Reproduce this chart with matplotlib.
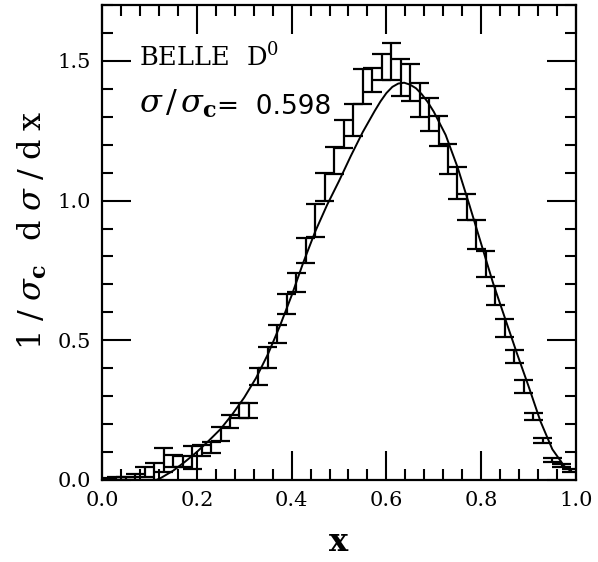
import matplotlib
matplotlib.use("Agg")
import matplotlib.pyplot as plt
from matplotlib.ticker import MultipleLocator, FormatStrFormatter

plt.rcParams['mathtext.fontset'] = 'dejavuserif'
plt.rcParams['font.family'] = 'DejaVu Serif'

# bin centres and error bar ranges (low, high)
bin_x = [0.01, 0.03, 0.05, 0.07, 0.09, 0.11, 0.13, 0.15, 0.17, 0.19,
         0.21, 0.23, 0.25, 0.27, 0.29, 0.31, 0.33, 0.35, 0.37, 0.39,
         0.41, 0.43, 0.45, 0.47, 0.49, 0.51, 0.53, 0.55, 0.57, 0.59,
         0.61, 0.63, 0.65, 0.67, 0.69, 0.71, 0.73, 0.75, 0.77, 0.79,
         0.81, 0.83, 0.85, 0.87, 0.89, 0.91, 0.93, 0.95, 0.97, 0.99]
err_low = [0.000, 0.000, 0.000, 0.000, 0.010, 0.000, 0.030, 0.048, 0.045, 0.040,
           0.085, 0.095, 0.140, 0.185, 0.220, 0.220, 0.340, 0.402, 0.492, 0.595,
           0.672, 0.776, 0.869, 1.000, 1.095, 1.190, 1.232, 1.345, 1.390, 1.430,
           1.430, 1.375, 1.357, 1.298, 1.250, 1.196, 1.095, 1.006, 0.929, 0.827,
           0.726, 0.625, 0.512, 0.420, 0.310, 0.214, 0.131, 0.065, 0.048, 0.030]
err_high = [0.006, 0.012, 0.012, 0.020, 0.048, 0.060, 0.113, 0.089, 0.085, 0.120,
            0.125, 0.137, 0.190, 0.233, 0.276, 0.276, 0.402, 0.476, 0.556, 0.667,
            0.740, 0.867, 0.988, 1.098, 1.193, 1.290, 1.345, 1.470, 1.476, 1.524,
            1.565, 1.506, 1.488, 1.420, 1.369, 1.304, 1.202, 1.119, 1.024, 0.931,
            0.821, 0.696, 0.577, 0.464, 0.357, 0.238, 0.149, 0.077, 0.056, 0.040]

# fitted curve
curve_x = [0.115, 0.125, 0.15, 0.175, 0.20, 0.225, 0.25, 0.275, 0.30, 0.325,
           0.35, 0.375, 0.40, 0.425, 0.45, 0.475, 0.50, 0.525, 0.55, 0.575,
           0.5875, 0.60, 0.6125, 0.625, 0.6375, 0.65, 0.6625, 0.675, 0.6875,
           0.70, 0.725, 0.75, 0.775, 0.80, 0.825,
           0.85, 0.875, 0.90, 0.925, 0.95, 0.975, 0.99]
curve_y = [0.000, 0.008, 0.033, 0.065, 0.100, 0.140, 0.182, 0.235, 0.295, 0.365,
           0.450, 0.550, 0.660, 0.780, 0.890, 0.985, 1.070, 1.160, 1.245, 1.320,
           1.355, 1.385, 1.407, 1.419, 1.422, 1.415, 1.402, 1.380, 1.352,
           1.318, 1.235, 1.120, 0.985, 0.845, 0.705,
           0.580, 0.455, 0.335, 0.210, 0.110, 0.050, 0.030]

cap_half = 0.02

fig = plt.figure(figsize=(5.98, 5.62), dpi=100)
ax = fig.add_axes([0.1706, 0.146, 0.7926, 0.845])

ax.vlines(bin_x, err_low, err_high, color='black', lw=1.6)
ax.hlines(err_low, [x - cap_half for x in bin_x], [x + cap_half for x in bin_x],
          color='black', lw=1.6)
ax.hlines(err_high, [x - cap_half for x in bin_x], [x + cap_half for x in bin_x],
          color='black', lw=1.6)
ax.plot(curve_x, curve_y, color='black', lw=1.4)

ax.set_xlim(0, 1)
ax.set_ylim(0, 1.7)
ax.xaxis.set_major_locator(MultipleLocator(0.2))
ax.xaxis.set_minor_locator(MultipleLocator(0.04))
ax.yaxis.set_major_locator(MultipleLocator(0.5))
ax.yaxis.set_minor_locator(MultipleLocator(0.1))
ax.xaxis.set_major_formatter(FormatStrFormatter('%.1f'))
ax.yaxis.set_major_formatter(FormatStrFormatter('%.1f'))
ax.tick_params(which='both', direction='in', top=True, right=True, width=1.5,
               labelsize=15, colors='black')
ax.tick_params(which='major', length=21, pad=8)
ax.tick_params(which='minor', length=8)
for s in ax.spines.values():
    s.set_linewidth(1.6)

ax.set_xlabel('x', fontsize=23, fontweight='bold', labelpad=12)
sp = r'\hspace{0.3}'
ylab = (r'$\mathrm{1}' + sp + '/' + sp + r'\sigma_{\mathbf{c}}\hspace{0.8}'
        + r'\mathrm{d}' + sp + r'\sigma' + sp + '/' + sp + r'\mathrm{d}' + sp
        + r'\mathrm{x}$')
fig.text(0.055, 1 - 230 / 562, ylab,
         fontsize=23, rotation=90, ha='center', va='center')

ax.text(0.077, 1.482, r'BELLE  D$^0$', fontsize=18.5, ha='left', va='baseline')
t1 = ax.text(0.077, 1.315, r'$\sigma\hspace{0.15}/\hspace{0.15}\sigma_{\mathbf{c}}$',
             fontsize=23, ha='left', va='baseline')
ax.annotate('=  0.598', xy=(1.0, 0.0), xycoords=t1, xytext=(0, 0),
            textcoords='offset points', fontsize=19, family='DejaVu Sans',
            ha='left', va='bottom')

fig.savefig('out.png', dpi=100)
